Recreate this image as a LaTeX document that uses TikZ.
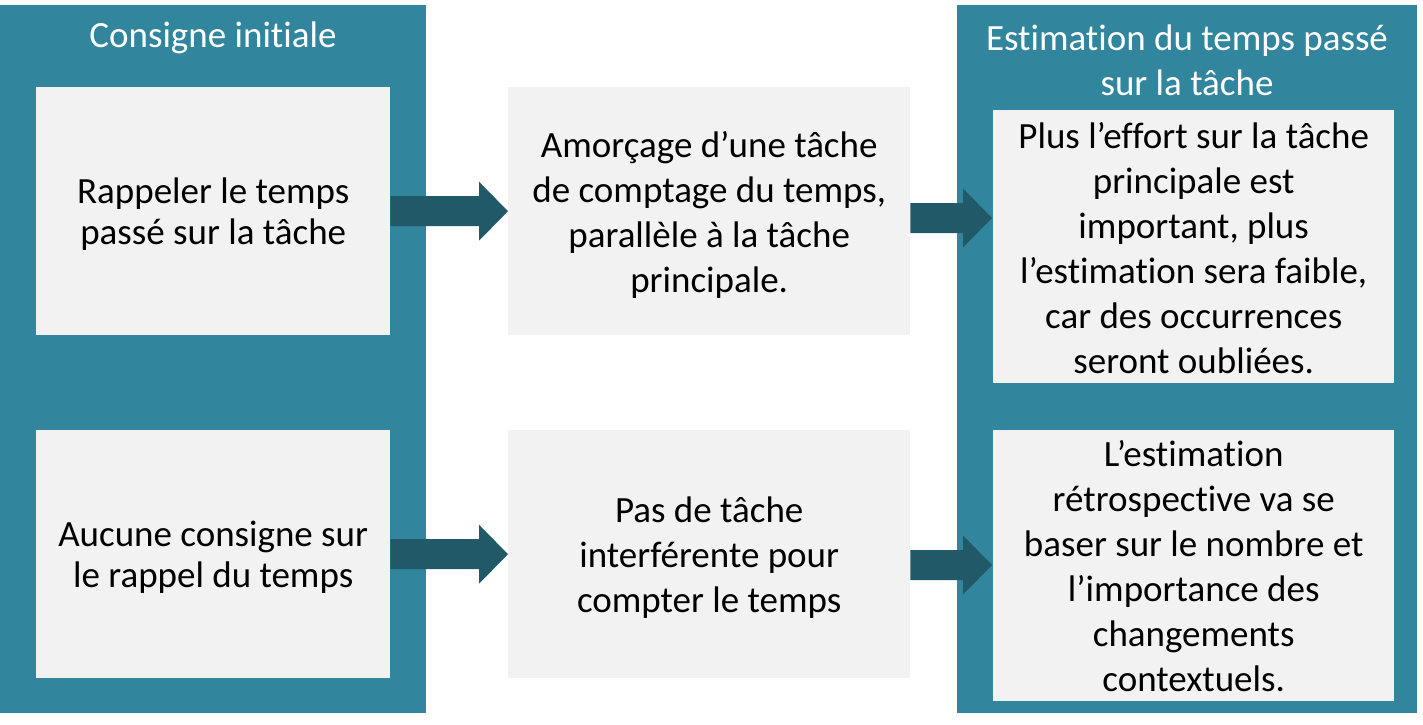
\documentclass[tikz,border=0pt]{standalone}
\usepackage{fontspec}
\setmainfont{Carlito}[Ligatures=NoCommon]
\usetikzlibrary{calc}
\definecolor{panelc}{HTML}{31859C}
\definecolor{arrowc}{HTML}{215968}
\definecolor{boxc}{HTML}{F2F2F2}
\tikzset{
  panel/.style={fill=panelc, draw=none, inner sep=0pt, anchor=north west},
  card/.style={fill=boxc, draw=none, inner sep=0pt, anchor=north west},
  cardtext/.style={text=black, align=center, inner sep=0pt, font=\fontsize{37}{45}\selectfont},
  cardtextnarrow/.style={cardtext, font=\fontsize{37}{41.5}\selectfont},
  ptitle/.style={text=white, align=center, font=\fontsize{37}{45}\selectfont, inner sep=0pt},
  arrowfill/.style={fill=arrowc}
}
\newcommand\blockarrow[2]{%
  \fill[arrowfill] let \p1=(#1), \p2=(#2) in
    (\x1,\y2+15pt) -- (\x2-29pt,\y2+15pt) -- (\x2-29pt,\y2+29.5pt) -- (\x2,\y2)
    -- (\x2-29pt,\y2-29.5pt) -- (\x2-29pt,\y2-15pt) -- (\x1,\y2-15pt) -- cycle;}
\begin{document}
\begin{tikzpicture}[x=1pt,y=-1pt]
\useasboundingbox (0,0) rectangle (1423,724);
% panels
\node[panel, minimum width=426pt, minimum height=708pt] (pl) at (0,5) {};
\node[panel, minimum width=460pt, minimum height=708pt] (pr) at (957,5) {};
% titles
\node[ptitle] (tl) at (213,38) {Consigne initiale};
\node[ptitle] (tr) at (1187,60) {Estimation du temps passé\\sur la tâche};
% cards
\node[card, minimum width=354pt, minimum height=248pt] (l1) at (36,87) {};
\node[card, minimum width=354pt, minimum height=248pt] (l2) at (36,430) {};
\node[card, minimum width=402pt, minimum height=248pt] (m1) at (508,87) {};
\node[card, minimum width=402pt, minimum height=248pt] (m2) at (508,430) {};
\node[card, minimum width=401pt, minimum height=273pt] (r1) at (993,110) {};
\node[card, minimum width=401pt, minimum height=271pt] (r2) at (993,430) {};
% card texts
\node[cardtextnarrow] (l1t) at ($(l1.center)+(0,3)$) {Rappeler le temps\\passé sur la tâche};
\node[cardtextnarrow] (l2t) at ($(l2.center)+(0,3)$) {Aucune consigne sur\\le rappel du temps};
\node[cardtext] (m1t) at ($(m1.center)+(0,4)$) {Amorçage d’une tâche\\de comptage du temps,\\parallèle à la tâche\\principale.};
\node[cardtext] (m2t) at ($(m2.center)+(0,3)$) {Pas de tâche\\interférente pour\\compter le temps};
\node[cardtext] (r1t) at ($(r1.center)+(0,1.5)$) {Plus l’effort sur la tâche\\principale est\\important, plus\\l’estimation sera faible,\\car des occurrences\\seront oubliées.};
\node[cardtext] (r2t) at ($(r2.center)+(0,0.5)$) {L’estimation\\rétrospective va se\\baser sur le nombre et\\l’importance des\\changements\\contextuels.};
% arrow tips on the right
\coordinate (t1) at ($(r1.west |- 0,218)+(-1,0)$);
\coordinate (t2) at ($(r2.west |- 0,565)+(-1,0)$);
% arrows
\blockarrow{l1.east}{m1.west}
\blockarrow{l2.east}{m2.west}
\blockarrow{m1.east}{t1}
\blockarrow{m2.east}{t2}
\end{tikzpicture}
\end{document}
